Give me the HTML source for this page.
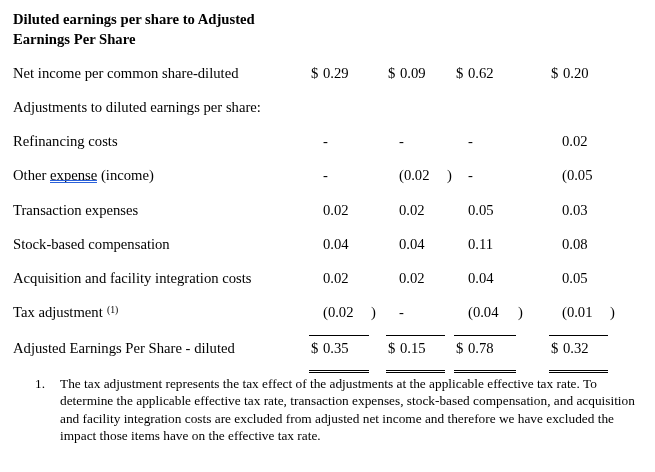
<!DOCTYPE html>
<html><head><meta charset="utf-8">
<style>
html,body{margin:0;padding:0;background:#fff;width:655px;height:472px;overflow:hidden;position:relative;}
.s{position:absolute;will-change:transform;font-family:"Liberation Serif",serif;font-size:14.67px;color:#000;white-space:nowrap;line-height:1;}
.b{font-weight:bold;}
.n{position:absolute;will-change:transform;word-spacing:1px;font-family:"Liberation Serif",serif;font-size:14.67px;color:#000;white-space:nowrap;line-height:1;}
.ln{position:absolute;height:1px;background:#000;}
.f{position:absolute;will-change:transform;font-family:"Liberation Serif",serif;font-size:13.33px;color:#000;white-space:nowrap;line-height:1;}
.sup{font-size:8px;vertical-align:top;}
.ul{position:absolute;height:1px;background:#4472c4;}
</style></head><body>
<div class="s b" style="left:13px;top:12px">Diluted earnings per share to Adjusted</div>
<div class="s b" style="left:13px;top:32px">Earnings Per Share</div>

<div class="s" style="left:13px;top:66px">Net income per common share-diluted</div>
<div class="s" style="left:13px;top:100px">Adjustments to diluted earnings per share:</div>
<div class="s" style="left:13px;top:134px">Refinancing costs</div>
<div class="s" style="left:13px;top:168px">Other <span style="position:relative">expense</span> (income)</div>
<div class="s" style="left:13px;top:203px">Transaction expenses</div>
<div class="s" style="left:13px;top:237px">Stock-based compensation</div>
<div class="s" style="left:13px;top:271px">Acquisition and facility integration costs</div>
<div class="s" style="left:13px;top:305px">Tax adjustment</div>
<div class="s" style="left:107px;top:304.5px;font-size:9.7px">(1)</div>
<div class="s" style="left:13px;top:341px">Adjusted Earnings Per Share - diluted</div>

<div class="ul" style="left:50px;top:180px;width:47px;background:#2b61d9"></div>
<div class="ul" style="left:50px;top:182px;width:47px;background:#2b61d9"></div>

<!-- col 1 -->
<div class="n" style="left:311px;top:66px">$ 0.29</div>
<div class="n" style="left:323px;top:134px">-</div>
<div class="n" style="left:323px;top:168px">-</div>
<div class="n" style="left:323px;top:203px">0.02</div>
<div class="n" style="left:323px;top:237px">0.04</div>
<div class="n" style="left:323px;top:271px">0.02</div>
<div class="n" style="left:323px;top:305px">(0.02</div>
<div class="n" style="left:371px;top:305px">)</div>
<div class="n" style="left:311px;top:341px">$ 0.35</div>

<!-- col 2 -->
<div class="n" style="left:388px;top:66px">$ 0.09</div>
<div class="n" style="left:399px;top:134px">-</div>
<div class="n" style="left:399px;top:168px">(0.02</div>
<div class="n" style="left:447px;top:168px">)</div>
<div class="n" style="left:399px;top:203px">0.02</div>
<div class="n" style="left:399px;top:237px">0.04</div>
<div class="n" style="left:399px;top:271px">0.02</div>
<div class="n" style="left:399px;top:305px">-</div>
<div class="n" style="left:388px;top:341px">$ 0.15</div>

<!-- col 3 -->
<div class="n" style="left:456px;top:66px">$ 0.62</div>
<div class="n" style="left:468px;top:134px">-</div>
<div class="n" style="left:468px;top:168px">-</div>
<div class="n" style="left:468px;top:203px">0.05</div>
<div class="n" style="left:468px;top:237px">0.11</div>
<div class="n" style="left:468px;top:271px">0.04</div>
<div class="n" style="left:468px;top:305px">(0.04</div>
<div class="n" style="left:518px;top:305px">)</div>
<div class="n" style="left:456px;top:341px">$ 0.78</div>

<!-- col 4 -->
<div class="n" style="left:551px;top:66px">$ 0.20</div>
<div class="n" style="left:562px;top:134px">0.02</div>
<div class="n" style="left:562px;top:168px">(0.05</div>
<div class="n" style="left:562px;top:203px">0.03</div>
<div class="n" style="left:562px;top:237px">0.08</div>
<div class="n" style="left:562px;top:271px">0.05</div>
<div class="n" style="left:562px;top:305px">(0.01</div>
<div class="n" style="left:610px;top:305px">)</div>
<div class="n" style="left:551px;top:341px">$ 0.32</div>

<!-- lines -->
<div class="ln" style="left:309px;top:335px;width:60px"></div>
<div class="ln" style="left:309px;top:370px;width:60px"></div>
<div class="ln" style="left:309px;top:372px;width:60px"></div>
<div class="ln" style="left:386px;top:335px;width:59px"></div>
<div class="ln" style="left:386px;top:370px;width:59px"></div>
<div class="ln" style="left:386px;top:372px;width:59px"></div>
<div class="ln" style="left:454px;top:335px;width:62px"></div>
<div class="ln" style="left:454px;top:370px;width:62px"></div>
<div class="ln" style="left:454px;top:372px;width:62px"></div>
<div class="ln" style="left:549px;top:335px;width:59px"></div>
<div class="ln" style="left:549px;top:370px;width:59px"></div>
<div class="ln" style="left:549px;top:372px;width:59px"></div>

<!-- footnote -->
<div class="f" style="left:35px;top:377px">1.</div>
<div class="f" style="left:60px;top:377px">The tax adjustment represents the tax effect of the adjustments at the applicable effective tax rate. To</div>
<div class="f" style="left:60px;top:394.3px">determine the applicable effective tax rate, transaction expenses, stock-based compensation, and acquisition</div>
<div class="f" style="left:60px;top:411.6px">and facility integration costs are excluded from adjusted net income and therefore we have excluded the</div>
<div class="f" style="left:60px;top:428.9px">impact those items have on the effective tax rate.</div>
</body></html>
